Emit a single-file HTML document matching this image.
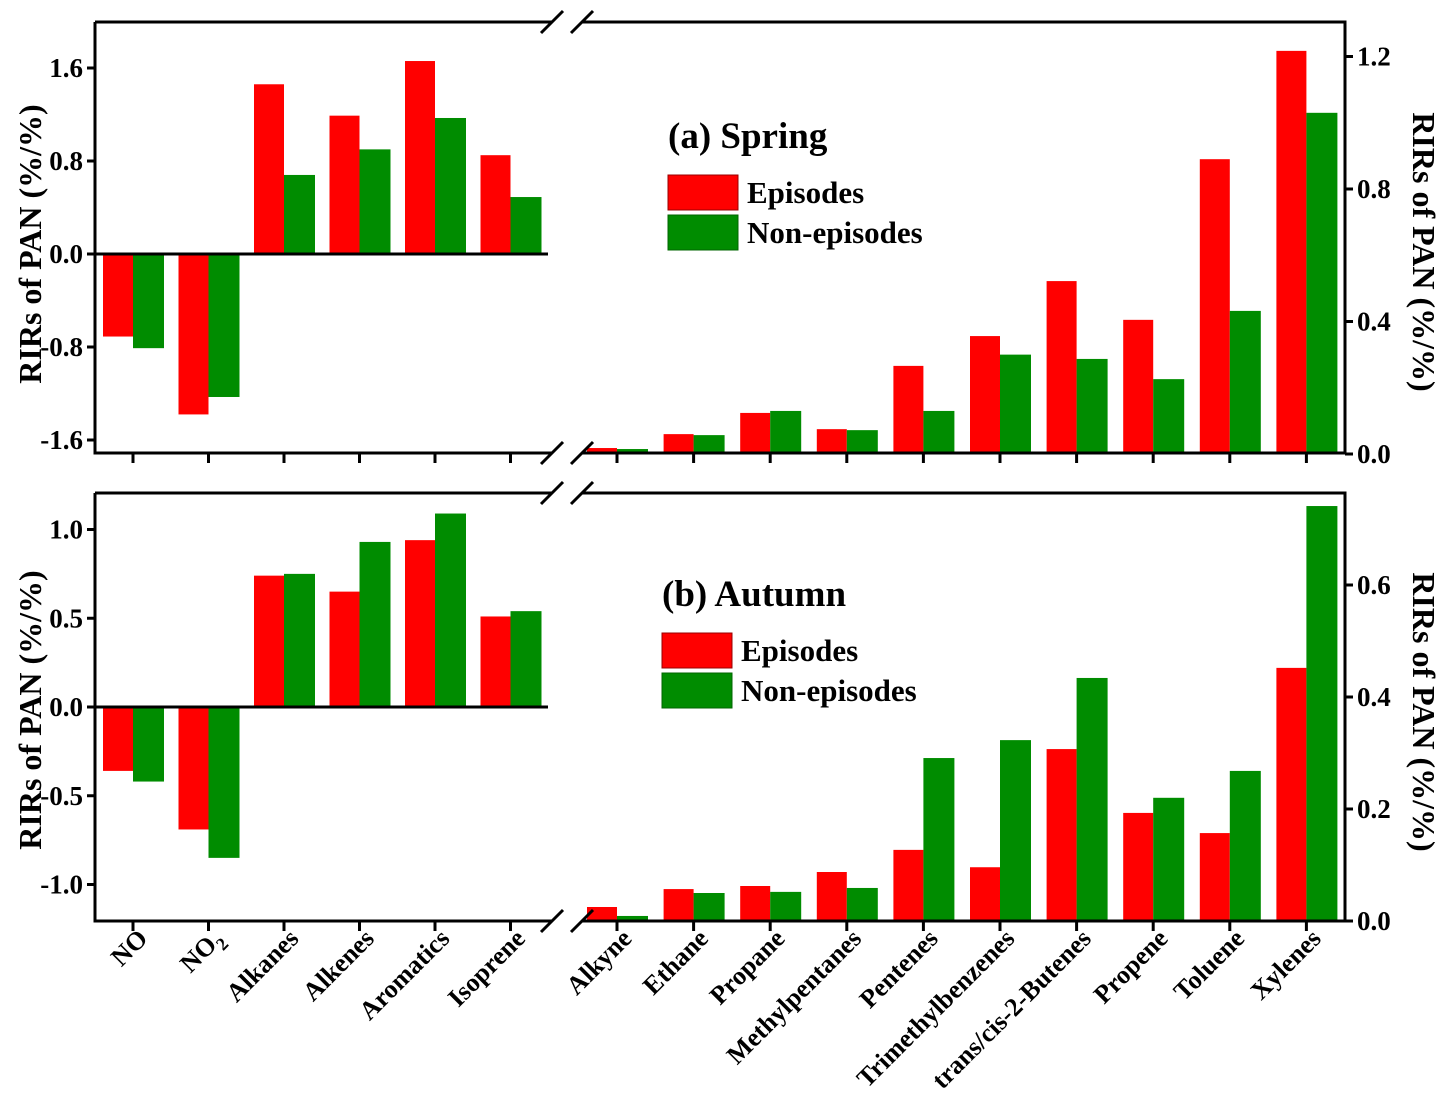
<!DOCTYPE html>
<html><head><meta charset="utf-8"><style>
body{margin:0;background:#fff}
svg{display:block;font-family:"Liberation Serif",serif;font-weight:bold}
</style></head><body>
<svg id="chart" width="1440" height="1096" viewBox="0 0 1440 1096"></svg>
<script>
const leftCats=["NO","NO2","Alkanes","Alkenes","Aromatics","Isoprene"];
const rightCats=["Alkyne","Ethane","Propane","Methylpentanes","Pentenes","Trimethylbenzenes","trans/cis-2-Butenes","Propene","Toluene","Xylenes"];
const springLeftEp=[-0.71,-1.38,1.46,1.19,1.66,0.85];
const springLeftNon=[-0.81,-1.23,0.68,0.90,1.17,0.49];
const springRightEp=[0.018,0.06,0.124,0.075,0.266,0.356,0.522,0.405,0.89,1.217];
const springRightNon=[0.015,0.057,0.13,0.072,0.13,0.30,0.287,0.226,0.432,1.03];
const autumnLeftEp=[-0.36,-0.69,0.74,0.65,0.94,0.51];
const autumnLeftNon=[-0.42,-0.85,0.75,0.93,1.09,0.54];
const autumnRightEp=[0.025,0.057,0.0625,0.0875,0.127,0.096,0.307,0.193,0.157,0.452];
const autumnRightNon=[0.009,0.05,0.052,0.059,0.291,0.323,0.434,0.22,0.268,0.741];
const springLeftTicks=[-1.6,-0.8,0.0,0.8,1.6];
const springRightTicks=[0.0,0.4,0.8,1.2];
const autumnLeftTicks=[-1.0,-0.5,0.0,0.5,1.0];
const autumnRightTicks=[0.0,0.2,0.4,0.6];

const svg=document.getElementById('chart');
const NS='http://www.w3.org/2000/svg';
function mk(tag,attrs,parent){const e=document.createElementNS(NS,tag);for(const k in attrs)e.setAttribute(k,attrs[k]);(parent||svg).appendChild(e);return e;}
const xL=i=>133+i*75.5;
const xR=i=>617+i*76.6;
const BW=30;

function panel(cfg){
  const g=mk('g',{});
  
  
  const yl=v=>cfg.l0+(v)*cfg.lk;
  const yr=v=>cfg.r0+(v)*cfg.rk;
  cfg.lEp.forEach((v,i)=>{
    const y0=yl(0),y1=yl(v);
    const r=mk('rect',{x:xL(i)-BW,y:Math.min(y0,y1),width:BW,height:Math.abs(y1-y0),fill:'#ff0000'},g);
    
    
  });
  cfg.lNon.forEach((v,i)=>{
    const y0=yl(0),y1=yl(v);
    const r=mk('rect',{x:xL(i),y:Math.min(y0,y1),width:BW+1,height:Math.abs(y1-y0),fill:'#008c00'},g);
    
    
  });
  cfg.rEp.forEach((v,i)=>{
    const y0=yr(0),y1=yr(v);
    const r=mk('rect',{x:xR(i)-BW,y:y1,width:BW,height:y0-y1,fill:'#ff0000'},g);
    
    
  });
  cfg.rNon.forEach((v,i)=>{
    const y0=yr(0),y1=yr(v);
    const r=mk('rect',{x:xR(i),y:y1,width:BW+1,height:y0-y1,fill:'#008c00'},g);
    
    
  });
  const T=cfg.top,B=cfg.bot;
  const st={stroke:'#000','stroke-width':3,fill:'none'};
  mk('path',Object.assign({d:`M95,${T} V${B} H552 M582,${B} H1345 V${T} H582 M552,${T} H95`},st),g);
  [[552,T],[582,T],[552,B],[582,B]].forEach(([x,y])=>mk('line',{x1:x-11,y1:y+11,x2:x+11,y2:y-11,stroke:'#000','stroke-width':3},g));
  mk('line',{x1:95,y1:yl(0),x2:548,y2:yl(0),stroke:'#000','stroke-width':3},g);
  cfg.lt.forEach(v=>{
    mk('line',{x1:87,y1:yl(v),x2:95,y2:yl(v),stroke:'#000','stroke-width':3},g);
    const t=mk('text',{x:83,y:yl(v)+9,'text-anchor':'end','font-size':27},g);t.textContent=v.toFixed(1);
    
  });
  cfg.rt.forEach(v=>{
    mk('line',{x1:1345,y1:yr(v),x2:1353,y2:yr(v),stroke:'#000','stroke-width':3},g);
    const t=mk('text',{x:1357,y:yr(v)+9,'font-size':27},g);t.textContent=v.toFixed(1);
    
  });
  leftCats.forEach((c,i)=>mk('line',{x1:xL(i),y1:B,x2:xL(i),y2:B+10,stroke:'#000','stroke-width':3},g));
  rightCats.forEach((c,i)=>mk('line',{x1:xR(i),y1:B,x2:xR(i),y2:B+10,stroke:'#000','stroke-width':3},g));
  const a=mk('text',{transform:`translate(41,${cfg.lty}) rotate(-90)`,'text-anchor':'middle','font-size':32},g);
  a.textContent='RIRs of PAN (%/%)';
  const b=mk('text',{transform:`translate(1413,${cfg.rty}) rotate(90)`,'text-anchor':'middle','font-size':32},g);
  b.textContent='RIRs of PAN (%/%)';
  const ti=mk('text',{x:cfg.lx,y:cfg.ty,'font-size':37},g);ti.textContent=cfg.title;
  
  mk('rect',{x:cfg.lx,y:cfg.ty+27,width:70,height:35,fill:'#ff0000',stroke:'#900','stroke-width':1},g);
  mk('rect',{x:cfg.lx,y:cfg.ty+67,width:70,height:35,fill:'#008c00',stroke:'#060','stroke-width':1},g);
  const e1=mk('text',{x:cfg.lx+79,y:cfg.ty+55,'font-size':31},g);e1.textContent='Episodes';
  
  const e2=mk('text',{x:cfg.lx+79,y:cfg.ty+95,'font-size':31},g);e2.textContent='Non-episodes';
  
}
panel({name:'spring-panel',top:22,bot:453,l0:254,lk:-116.25,r0:454,rk:-331.25,
  lEp:springLeftEp,lNon:springLeftNon,rEp:springRightEp,rNon:springRightNon,
  lt:springLeftTicks,rt:springRightTicks,lty:244,rty:252,title:'(a) Spring',lx:668,ty:148});
panel({name:'autumn-panel',top:493,bot:921,l0:707,lk:-177.5,r0:921,rk:-560,
  lEp:autumnLeftEp,lNon:autumnLeftNon,rEp:autumnRightEp,rNon:autumnRightNon,
  lt:autumnLeftTicks,rt:autumnRightTicks,lty:710,rty:712,title:'(b) Autumn',lx:662,ty:606});
function xlab(x,txt,i){
  const t=mk('text',{transform:`translate(${x+16},${940}) rotate(-45)`,'text-anchor':'end','font-size':26});
  if(txt==='NO2'){t.textContent='NO';const s=mk('tspan',{'font-size':18,dy:7},t);s.textContent='2';}
  else t.textContent=txt;
  
  
}
leftCats.forEach((c,i)=>xlab(xL(i),c,i));
rightCats.forEach((c,i)=>xlab(xR(i),c,i));
</script>
</body></html>
